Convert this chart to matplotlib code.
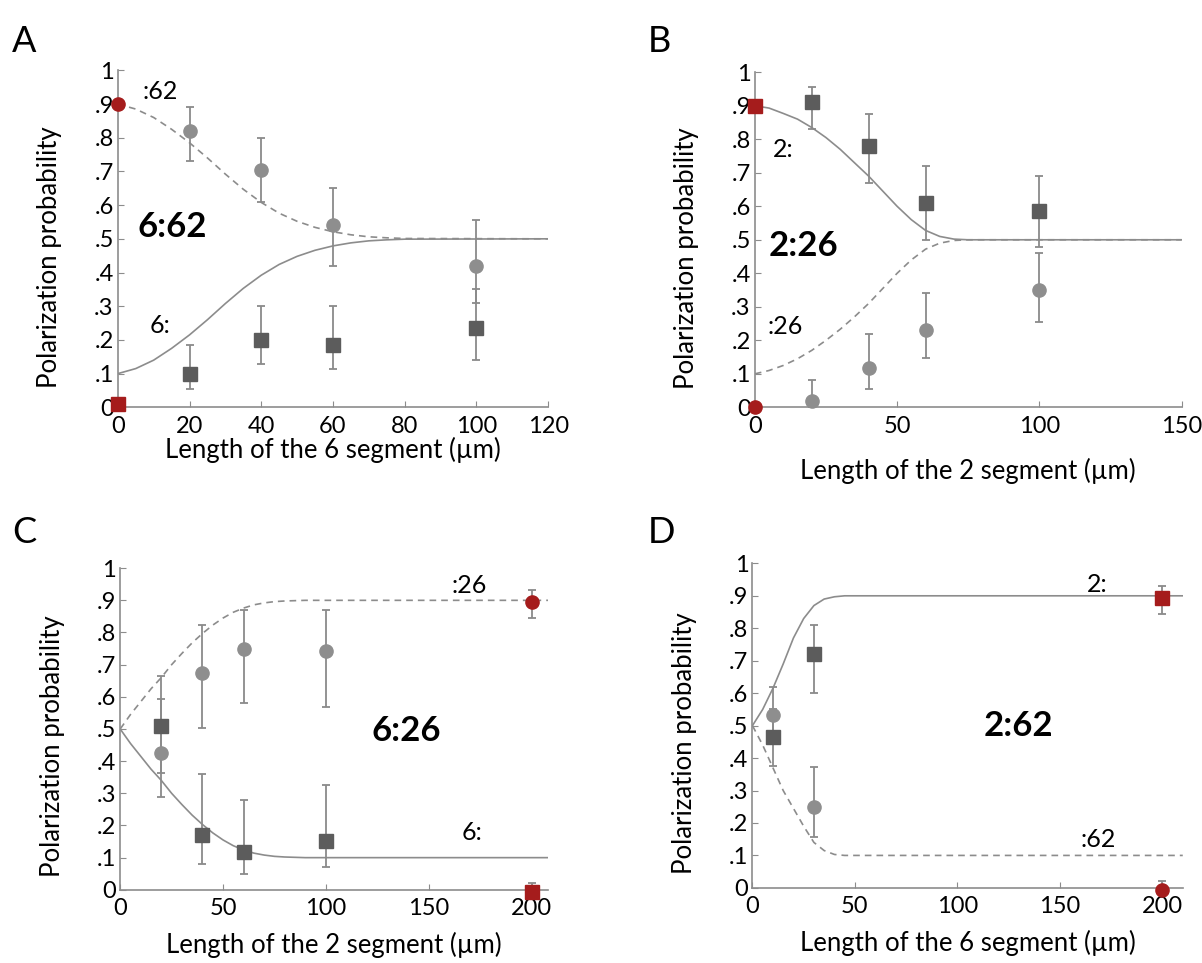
#!/usr/bin/env python3
"""Polarization probability vs segment length, four panels."""

import matplotlib.pyplot as plt

plt.rcParams['font.family'] = ['Lato', 'DejaVu Sans']

LINE_GRAY = '#8c8c8c'
SQ_COLOR = '#5c5c5c'
CI_COLOR = '#8e8e8e'
RED = '#a51c1c'
ERR_GRAY = '#8a8a8a'

# ---- Panel A: 6:62 ----
A_curve_x = [0, 5, 10, 15, 20, 25, 30, 35, 40, 45, 50, 55, 60, 65, 70, 75, 80, 120]
A_solid = [0.10, 0.115, 0.14, 0.175, 0.215, 0.26, 0.308, 0.353, 0.392, 0.424, 0.448,
           0.466, 0.479, 0.488, 0.494, 0.497, 0.499, 0.5]
A_dashed = [0.90, 0.885, 0.86, 0.825, 0.785, 0.74, 0.692, 0.647, 0.608, 0.576, 0.552,
            0.534, 0.521, 0.512, 0.506, 0.503, 0.501, 0.5]
A_x = [20, 40, 60, 100]
A_sq = [0.10, 0.20, 0.185, 0.235]
A_sq_lo = [0.055, 0.13, 0.115, 0.14]
A_sq_hi = [0.185, 0.30, 0.30, 0.35]
A_ci = [0.82, 0.705, 0.54, 0.42]
A_ci_lo = [0.73, 0.61, 0.42, 0.31]
A_ci_hi = [0.89, 0.80, 0.65, 0.555]
A_red_sq = (0, 0.01)
A_red_ci = (0, 0.90)

# ---- Panel B: 2:26 ----
B_curve_x = [0, 5, 10, 15, 20, 25, 30, 35, 40, 45, 50, 55, 60, 65, 70, 75, 150]
B_solid = [0.90, 0.893, 0.877, 0.86, 0.835, 0.805, 0.77, 0.73, 0.69, 0.645, 0.60,
           0.56, 0.528, 0.51, 0.502, 0.5, 0.5]
B_dashed = [0.10, 0.11, 0.125, 0.145, 0.17, 0.20, 0.233, 0.27, 0.31, 0.355, 0.40,
            0.44, 0.472, 0.49, 0.498, 0.5, 0.5]
B_x = [20, 40, 60, 100]
B_sq = [0.91, 0.78, 0.61, 0.585]
B_sq_lo = [0.83, 0.67, 0.50, 0.478]
B_sq_hi = [0.955, 0.876, 0.72, 0.69]
B_ci = [0.02, 0.117, 0.231, 0.349]
B_ci_lo = [0.0, 0.056, 0.146, 0.255]
B_ci_hi = [0.082, 0.218, 0.34, 0.46]
B_red_sq = (0, 0.90)
B_red_ci = (0, 0.0)

# ---- Panel C: 6:26 ----
C_curve_x = [0, 5, 10, 15, 20, 25, 30, 35, 40, 45, 50, 55, 60, 65, 70, 75, 80, 90, 208]
C_solid = [0.50, 0.455, 0.415, 0.375, 0.34, 0.30, 0.265, 0.232, 0.203, 0.177, 0.155,
           0.137, 0.124, 0.114, 0.108, 0.104, 0.102, 0.1, 0.1]
C_dashed = [0.50, 0.545, 0.585, 0.625, 0.66, 0.70, 0.735, 0.768, 0.797, 0.823, 0.845,
            0.863, 0.876, 0.886, 0.892, 0.896, 0.898, 0.9, 0.9]
C_x = [20, 40, 60, 100]
C_sq = [0.51, 0.171, 0.118, 0.153]
C_sq_lo = [0.362, 0.079, 0.05, 0.071]
C_sq_hi = [0.593, 0.359, 0.28, 0.327]
C_ci = [0.426, 0.675, 0.749, 0.741]
C_ci_lo = [0.288, 0.504, 0.58, 0.568]
C_ci_hi = [0.665, 0.822, 0.869, 0.869]
C_red_ci = (200, 0.894, 0.846, 0.933)
C_red_sq = (200, -0.006, -0.02, 0.022)

# ---- Panel D: 2:62 ----
D_curve_x = [0, 5, 10, 15, 20, 25, 30, 35, 40, 45, 210]
D_solid = [0.50, 0.55, 0.615, 0.69, 0.77, 0.83, 0.87, 0.89, 0.897, 0.9, 0.9]
D_dashed = [0.50, 0.44, 0.37, 0.30, 0.245, 0.19, 0.14, 0.115, 0.103, 0.1, 0.1]
D_x = [10, 30]
D_sq = [0.466, 0.72]
D_sq_lo = [0.377, 0.602]
D_sq_hi = [0.55, 0.81]
D_ci = [0.534, 0.249]
D_ci_lo = [0.45, 0.158]
D_ci_hi = [0.62, 0.372]
D_red_sq = (200, 0.893, 0.845, 0.931)
D_red_ci = (200, -0.007, -0.02, 0.02)

y_ticks = [0, 0.1, 0.2, 0.3, 0.4, 0.5, 0.6, 0.7, 0.8, 0.9, 1.0]
y_ticklabels = ['0', '.1', '.2', '.3', '.4', '.5', '.6', '.7', '.8', '.9', '1']


def style_axes(ax, xlim, xticks, xlabel, labelpad):
    ax.set_xlim(*xlim)
    ax.set_ylim(0, 1)
    ax.set_xticks(xticks)
    ax.set_xticklabels([str(t) for t in xticks])
    ax.set_yticks(y_ticks)
    ax.set_yticklabels(y_ticklabels)
    for s in ['top', 'right']:
        ax.spines[s].set_visible(False)
    for s in ['left', 'bottom']:
        ax.spines[s].set_color(LINE_GRAY)
        ax.spines[s].set_linewidth(1.2)
    ax.tick_params(direction='in', length=4, color=LINE_GRAY, labelsize=17)
    ax.tick_params(axis='x', pad=6)
    ax.tick_params(axis='y', pad=3)
    ax.set_xlabel(xlabel, fontsize=18.5, labelpad=labelpad)
    ax.set_ylabel('Polarization probability', fontsize=18.5)
    ax.yaxis.set_label_coords(-0.13, 0.445)


def draw_points(ax, x, y, lo, hi, marker, color):
    yerr = [[v - l for v, l in zip(y, lo)], [h - v for v, h in zip(y, hi)]]
    ax.errorbar(x, y, yerr=yerr, fmt=marker, color=color, ecolor=ERR_GRAY,
                elinewidth=1.3, capsize=3, capthick=1.3, markersize=9.5,
                markeredgecolor=color, clip_on=False, zorder=3)


fig = plt.figure(figsize=(12.02, 9.63), dpi=100)
axA = fig.add_axes([0.098, 0.577, 0.358, 0.350])
axB = fig.add_axes([0.628, 0.577, 0.355, 0.348])
axC = fig.add_axes([0.100, 0.076, 0.356, 0.334])
axD = fig.add_axes([0.626, 0.078, 0.358, 0.337])

# Panel A
axA.plot(A_curve_x, A_solid, color=LINE_GRAY, lw=1.2)
axA.plot(A_curve_x, A_dashed, color=LINE_GRAY, lw=1.2, ls=(0, (4, 3)))
draw_points(axA, A_x, A_sq, A_sq_lo, A_sq_hi, 's', SQ_COLOR)
draw_points(axA, A_x, A_ci, A_ci_lo, A_ci_hi, 'o', CI_COLOR)
axA.plot(*A_red_ci, 'o', color=RED, ms=9.5, clip_on=False, zorder=4)
axA.plot(*A_red_sq, 's', color=RED, ms=9.5, clip_on=False, zorder=4)
style_axes(axA, (0, 120), [0, 20, 40, 60, 80, 100, 120], 'Length of the 6 segment (µm)', 0)
axA.text(7, 0.936, ':62', fontsize=18, va='center')
axA.text(9, 0.243, '6:', fontsize=18, va='center')
axA.text(5.5, 0.535, '6:62', fontsize=25, fontweight='bold', va='center')

# Panel B
axB.plot(B_curve_x, B_solid, color=LINE_GRAY, lw=1.2)
axB.plot(B_curve_x, B_dashed, color=LINE_GRAY, lw=1.2, ls=(0, (4, 3)))
draw_points(axB, B_x, B_sq, B_sq_lo, B_sq_hi, 's', SQ_COLOR)
draw_points(axB, B_x, B_ci, B_ci_lo, B_ci_hi, 'o', CI_COLOR)
axB.plot(*B_red_sq, 's', color=RED, ms=9.5, clip_on=False, zorder=4)
axB.plot(*B_red_ci, 'o', color=RED, ms=9.5, clip_on=False, zorder=4)
style_axes(axB, (0, 150), [0, 50, 100, 150], 'Length of the 2 segment (µm)', 15)
axB.text(6.5, 0.77, '2:', fontsize=18, va='center')
axB.text(4.3, 0.24, ':26', fontsize=18, va='center')
axB.text(5.0, 0.48, '2:26', fontsize=25, fontweight='bold', va='center')

# Panel C
axC.plot(C_curve_x, C_solid, color=LINE_GRAY, lw=1.2)
axC.plot(C_curve_x, C_dashed, color=LINE_GRAY, lw=1.2, ls=(0, (4, 3)))
draw_points(axC, C_x, C_sq, C_sq_lo, C_sq_hi, 's', SQ_COLOR)
draw_points(axC, C_x, C_ci, C_ci_lo, C_ci_hi, 'o', CI_COLOR)
draw_points(axC, [C_red_ci[0]], [C_red_ci[1]], [C_red_ci[2]], [C_red_ci[3]], 'o', RED)
draw_points(axC, [C_red_sq[0]], [C_red_sq[1]], [C_red_sq[2]], [C_red_sq[3]], 's', RED)
style_axes(axC, (0, 208), [0, 50, 100, 150, 200], 'Length of the 2 segment (µm)', 9)
axC.text(161, 0.945, ':26', fontsize=18, va='center')
axC.text(166, 0.179, '6:', fontsize=18, va='center')
axC.text(122, 0.495, '6:26', fontsize=25, fontweight='bold', va='center')

# Panel D
axD.plot(D_curve_x, D_solid, color=LINE_GRAY, lw=1.2)
axD.plot(D_curve_x, D_dashed, color=LINE_GRAY, lw=1.2, ls=(0, (4, 3)))
draw_points(axD, D_x, D_ci, D_ci_lo, D_ci_hi, 'o', CI_COLOR)
draw_points(axD, D_x, D_sq, D_sq_lo, D_sq_hi, 's', SQ_COLOR)
draw_points(axD, [D_red_sq[0]], [D_red_sq[1]], [D_red_sq[2]], [D_red_sq[3]], 's', RED)
draw_points(axD, [D_red_ci[0]], [D_red_ci[1]], [D_red_ci[2]], [D_red_ci[3]], 'o', RED)
style_axes(axD, (0, 210), [0, 50, 100, 150, 200], 'Length of the 6 segment (µm)', 9)
axD.text(163, 0.934, '2:', fontsize=18, va='center')
axD.text(160, 0.148, ':62', fontsize=18, va='center')
axD.text(113, 0.50, '2:62', fontsize=25, fontweight='bold', va='center')

# Panel letters
for lbl, (px, py) in zip(['A', 'B', 'C', 'D'],
                         [(12, 42), (648, 42), (12, 532), (648, 532)]):
    fig.text(px / 1202, 1 - py / 963, lbl, fontsize=26, va='center', ha='left')

fig.savefig('out.png', dpi=100)
